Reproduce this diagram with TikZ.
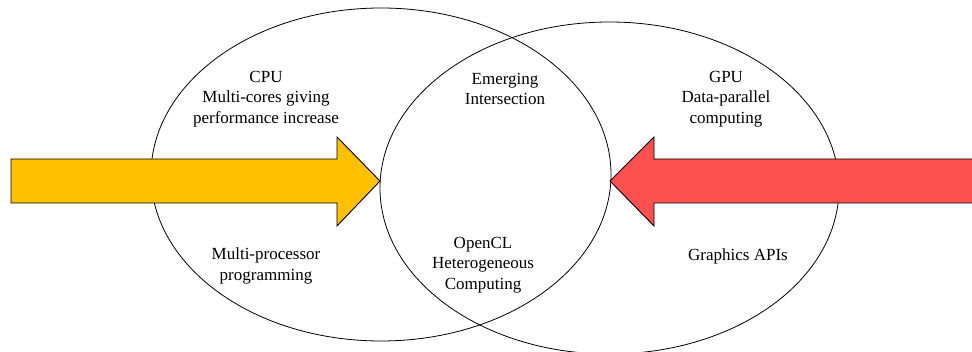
\documentclass[tikz,border=0pt]{standalone}
\usepackage{fontspec}
\setmainfont{Liberation Serif}
\usetikzlibrary{shapes.geometric}

\tikzset{
    ring/.style={draw, ellipse, line width=0.8pt, inner sep=0pt, outer sep=0pt},
    label text/.style={align=center, font=\fontsize{17}{20.5}\selectfont},
    bigarrow/.style={draw=black, line width=0.9pt, line join=miter}
}

\begin{document}
\begin{tikzpicture}[x=1pt, y=-1pt]
            \useasboundingbox (0,0) rectangle (972,352);
            \node[ring, minimum width=460pt, minimum height=333pt] (cpu) at (381,174.5) {};
            \node[ring, minimum width=459pt, minimum height=332pt] (gpu) at (609.5,188) {};
            \filldraw[bigarrow, fill={rgb,255:red,255;green,192;blue,0}]
                (11,159) -- (337,159) -- (337,137) -- (380,181) -- (337,226) -- (337,203) -- (11,203) -- cycle;
            \filldraw[bigarrow, fill={rgb,255:red,255;green,80;blue,80}]
                (975,159) -- (654,159) -- (654,137) -- (610,181) -- (654,226) -- (654,203) -- (975,203) -- cycle;
            \node[label text] (cputext) at (266,99) {CPU\\Multi-cores giving\\performance increase};
            \node[label text] (emerging) at (505,89) {Emerging\\Intersection};
            \node[label text] (gputext) at (726,99) {GPU\\Data-parallel\\computing};
            \node[label text] (multiproc) at (266,266) {Multi-processor\\programming};
            \node[label text] (opencl) at (483,265) {OpenCL\\Heterogeneous\\Computing};
            \node[label text] (graphics) at (738,256) {Graphics APIs};
        \end{tikzpicture}
\end{document}
